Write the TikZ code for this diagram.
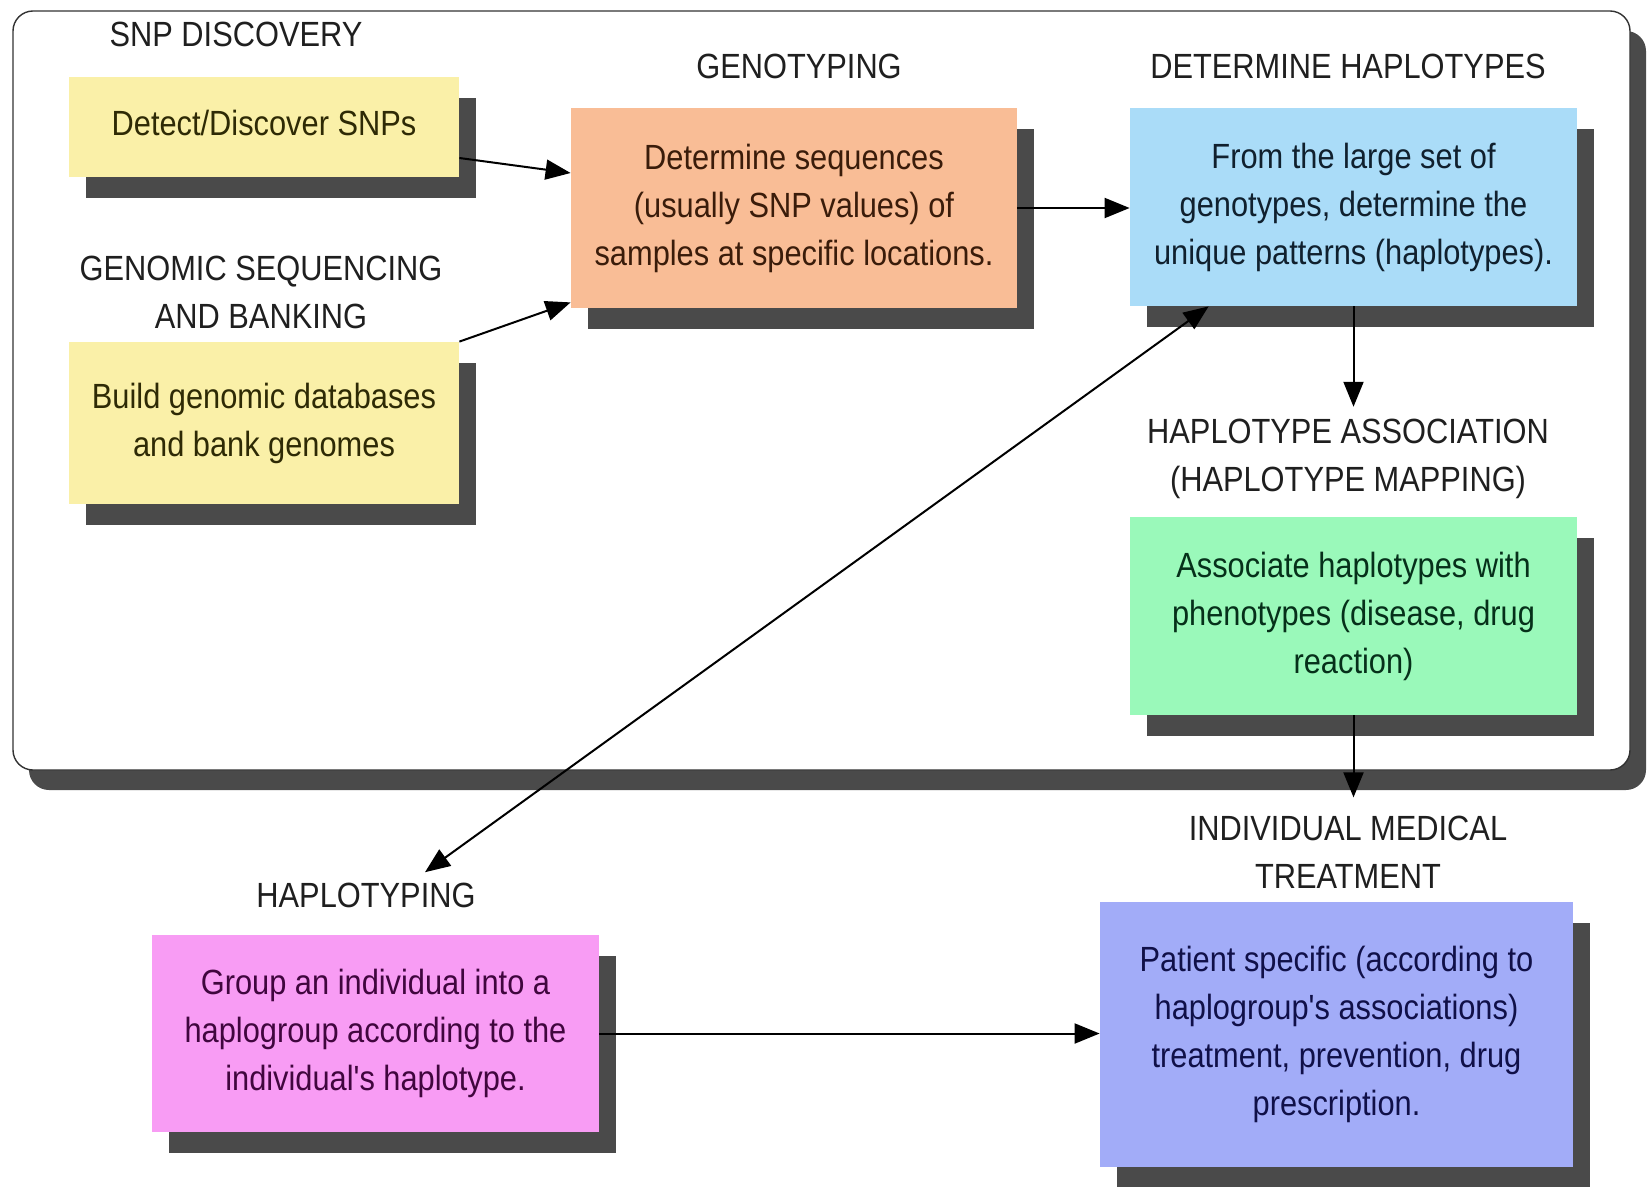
\documentclass[tikz,border=0pt]{standalone}
\usepackage{fontspec}
\setmainfont{Liberation Sans}[FakeStretch=0.88, Ligatures=TeXOff]
\usetikzlibrary{arrows.meta,shadows}
\definecolor{cyel}{HTML}{FAF0A8}
\definecolor{corg}{HTML}{F9BD96}
\definecolor{cblu}{HTML}{AADCF8}
\definecolor{cgrn}{HTML}{9AF9BA}
\definecolor{cpur}{HTML}{A2ACF8}
\definecolor{cpnk}{HTML}{F89CF4}
\definecolor{shadowc}{HTML}{4A4A4A}
\definecolor{tyel}{HTML}{2E2A05}
\definecolor{torg}{HTML}{3A1C0A}
\definecolor{tblu}{HTML}{10202E}
\definecolor{tgrn}{HTML}{06301A}
\definecolor{tpur}{HTML}{101048}
\definecolor{tpnk}{HTML}{40063E}
\begin{document}
\begin{tikzpicture}[x=0.5pt,y=-0.5pt,
  txt/.style={font=\fontsize{17.5pt}{24pt}\selectfont},
  box/.style={txt, inner sep=0pt, align=center,
    drop shadow={shadow xshift=8.5pt, shadow yshift=-10.5pt, fill=shadowc, opacity=1}},
  lbl/.style={txt, align=center, inner sep=0pt, text=black!88},
  arr/.style={-{Triangle[length=12.5pt,width=10pt]}, line width=1pt},
  darr/.style={{Triangle[length=12.5pt,width=10pt]}-{Triangle[length=12.5pt,width=10pt]}, line width=1pt}]
\useasboundingbox (0,0) rectangle (1648,1187);
\fill[white] (0,0) rectangle (1648,1187);

% outer frame
\node[draw=black!80, line width=0.7pt, fill=white, rounded corners=10pt,
  minimum width=808.5pt, minimum height=379.5pt, inner sep=0pt,
  drop shadow={shadow xshift=8pt, shadow yshift=-10pt, fill=shadowc, opacity=1}]
  (frame) at (821.5,390.5) {};

% labels
\node[lbl] (lsnp) at (236,34) {SNP DISCOVERY};
\node[lbl] (lgen) at (261,292) {GENOMIC SEQUENCING\\AND BANKING};
\node[lbl] (lgty) at (799,66) {GENOTYPING};
\node[lbl] (ldh) at (1348,66) {DETERMINE HAPLOTYPES};
\node[lbl] (lha) at (1348,459) {HAPLOTYPE ASSOCIATION\\(HAPLOTYPE MAPPING)};
\node[lbl] (limt) at (1348,852) {INDIVIDUAL MEDICAL\\TREATMENT};
\node[lbl] (lhpt) at (366,895) {HAPLOTYPING};

% boxes
\node[box, fill=cyel, text=tyel, minimum width=195pt, minimum height=50pt] (y1) at (264,127)
  {Detect/Discover SNPs\rule[-4pt]{0pt}{1pt}};
\node[box, fill=cyel, text=tyel, minimum width=195pt, minimum height=81pt] (y2) at (264,423)
  {Build genomic databases\\and bank genomes};
\node[box, fill=corg, text=torg, minimum width=223pt, minimum height=100pt] (org) at (794,208)
  {Determine sequences\\(usually SNP values) of\\samples at specific locations.};
\node[box, fill=cblu, text=tblu, minimum width=223.5pt, minimum height=99pt] (blu) at (1353.5,207)
  {From the large set of\\genotypes, determine the\\unique patterns (haplotypes).};
\node[box, fill=cgrn, text=tgrn, minimum width=223.5pt, minimum height=99pt] (grn) at (1353.5,616)
  {Associate haplotypes with\\phenotypes (disease, drug\\reaction)};
\node[box, fill=cpur, text=tpur, minimum width=236.5pt, minimum height=132.5pt] (pur) at (1336.5,1034.5)
  {Patient specific (according to\\haplogroup's associations)\\treatment, prevention, drug\\prescription.};
\node[box, fill=cpnk, text=tpnk, minimum width=223.5pt, minimum height=98.5pt] (pnk) at (375.5,1033.5)
  {Group an individual into a\\haplogroup according to the\\individual's haplotype.};

% connectors
\draw[arr] ([yshift=-15.5pt]y1.east) -- ([yshift=17.5pt]org.west);
\draw[arr] (y2.north east) -- ([yshift=3pt]org.south west);
\draw[arr] (org.east) -- (org.east -| blu.west);
\draw[arr] (blu.south) -- ([yshift=6pt]blu.south |- lha.north);
\draw[arr] (grn.south) -- ([yshift=9pt]grn.south |- limt.north);
\coordinate (dlow) at ([xshift=29.5pt,yshift=5pt]lhpt.north);
\draw[darr] (dlow) -- ([xshift=39.5pt]blu.south west);
\draw[arr] (pnk.east) -- (pnk.east -| pur.west);
\end{tikzpicture}
\end{document}
